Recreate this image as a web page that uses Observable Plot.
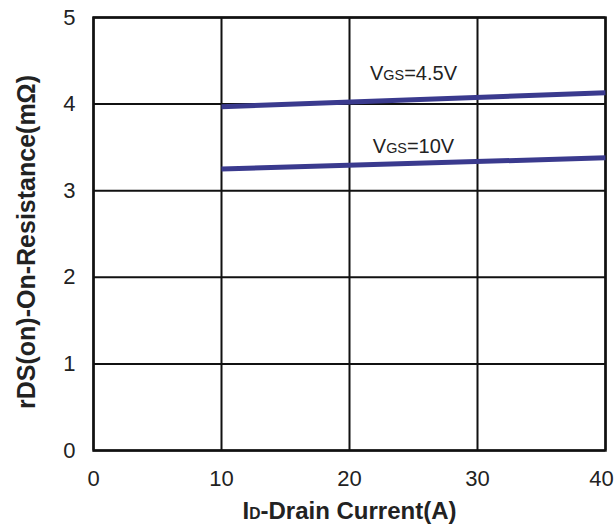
<!DOCTYPE html>
<html>
<head>
<meta charset="utf-8">
<script src="https://cdn.jsdelivr.net/npm/d3@7"></script>
<script src="https://cdn.jsdelivr.net/npm/@observablehq/plot@0.6"></script>
<style>
  html, body { margin: 0; padding: 0; background: #fff; }
  svg text { font-family: "Liberation Sans", Arial, sans-serif; }
</style>
</head>
<body>
<div id="chart"></div>
<script>
// Data
const currents = [10, 40];
const rds45 = [3.97, 4.13];   // VGS = 4.5V
const rds10 = [3.25, 3.38];   // VGS = 10V
const xTicks = [0, 10, 20, 30, 40];
const yTicks = [0, 1, 2, 3, 4, 5];
const seriesLabels = ["VGS=4.5V", "VGS=10V"];
const labelX = [25, 25];
const labelY = [4.35, 3.51];
const xTitle = "ID-Drain Current(A)";
const yTitle = "rDS(on)-On-Resistance(mΩ)";

const lines = [
  ...currents.map((c, i) => ({x: c, y: rds45[i], s: seriesLabels[0]})),
  ...currents.map((c, i) => ({x: c, y: rds10[i], s: seriesLabels[1]}))
];
const labels = seriesLabels.map((t, i) => ({t, x: labelX[i], y: labelY[i]}));

const chart = Plot.plot({
  width: 615,
  height: 525,
  marginLeft: 93,
  marginRight: 10,
  marginTop: 17,
  marginBottom: 75,
  style: {fontFamily: "Liberation Sans, Arial, sans-serif", fontSize: "22px", color: "#222", background: "#fff"},
  x: {domain: [0, 40], ticks: xTicks, label: null},
  y: {domain: [0, 5], ticks: yTicks, label: null},
  marks: [
    Plot.gridX(xTicks, {stroke: "#111", strokeOpacity: 1, strokeWidth: 2}),
    Plot.gridY(yTicks, {stroke: "#111", strokeOpacity: 1, strokeWidth: 2}),
    Plot.frame({stroke: "#111", strokeWidth: 2.5}),
    Plot.axisX({ticks: xTicks, tickSize: 0, tickPadding: 20, fontSize: 22, tickFormat: d => String(d), label: null}),
    Plot.axisY({ticks: yTicks, tickSize: 0, tickPadding: 18, fontSize: 22, tickFormat: d => String(d), label: null}),
    Plot.line(lines, {x: "x", y: "y", z: "s", stroke: "#3a3a8e", strokeWidth: 5, strokeLinecap: "butt"}),
    Plot.text(labels, {x: "x", y: "y", text: "t", fontSize: 20, fill: "#222"}),
    Plot.text([xTitle], {frameAnchor: "bottom", dy: 68, text: d => d, fontSize: 24, fontWeight: "bold", fill: "#222"}),
    Plot.text([yTitle], {frameAnchor: "left", textAnchor: "middle", dx: -67, dy: 8, rotate: -90, text: d => d, fontSize: 25, fontWeight: "bold", fill: "#222"})
  ]
});

// subscripts and edge tick nudge
d3.select(chart).selectAll("text").each(function() {
  const t = this.textContent;
  const sel = d3.select(this);
  if (t.startsWith("VGS=")) {
    sel.text(null);
    sel.append("tspan").text("V");
    sel.append("tspan").attr("font-size", "0.72em").text("GS");
    sel.append("tspan").text(t.slice(3));
  } else if (t === xTitle) {
    sel.text(null);
    sel.append("tspan").text("I");
    sel.append("tspan").attr("font-size", "0.65em").text("D");
    sel.append("tspan").text(t.slice(2));
  } else if (t === String(xTicks[xTicks.length - 1])) {
    sel.attr("dx", -4);
  }
});

document.getElementById("chart").appendChild(chart);
</script>
</body>
</html>
